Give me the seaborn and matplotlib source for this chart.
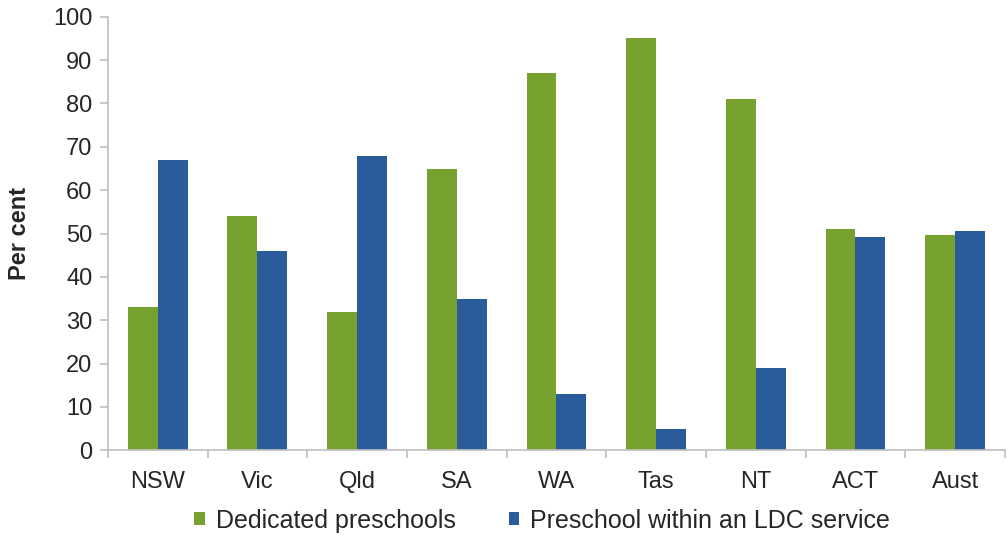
import matplotlib
matplotlib.use("Agg")
import matplotlib.pyplot as plt
from matplotlib.ticker import FixedLocator
import seaborn as sns
import pandas as pd

states = ['NSW', 'Vic', 'Qld', 'SA', 'WA', 'Tas', 'NT', 'ACT', 'Aust']
dedicated = [33, 54, 32, 65, 87, 95, 81, 51, 49.6]
ldc = [67, 46, 68, 35, 13, 5, 19, 49.2, 50.5]
series = ['Dedicated preschools', 'Preschool within an LDC service']

df = pd.DataFrame({
    'state': states * 2,
    'value': dedicated + ldc,
    'series': [series[0]] * len(states) + [series[1]] * len(states),
})

sns.set_style('white')
plt.rcParams['font.family'] = ['Liberation Sans', 'DejaVu Sans']

fig = plt.figure(figsize=(10.08, 5.6), dpi=100)
ax = fig.add_axes([0.107, 0.196, 0.890, 0.774])

sns.barplot(data=df, x='state', y='value', hue='series', order=states,
            hue_order=series, palette=['#78a22f', '#2a5b9a'], width=0.6,
            saturation=1, linewidth=0, ax=ax, legend=True)

ax.set_ylim(0, 100)
ax.set_xlim(-0.5, 8.5)
ax.set_yticks(range(0, 101, 10))
ax.set_xlabel('')
ax.set_ylabel('Per cent', fontsize=17, fontweight='bold')
ax.yaxis.set_label_coords(-0.086, 0.5)

for s in ['top', 'right']:
    ax.spines[s].set_visible(False)
for s in ['left', 'bottom']:
    ax.spines[s].set_color('#bfbfbf')
    ax.spines[s].set_linewidth(1.2)

ax.tick_params(axis='y', which='major', direction='out', length=6, color='#bfbfbf',
               width=1.2, labelsize=17, pad=5, left=True)
ax.tick_params(axis='x', which='major', length=0, labelsize=17, pad=15)
ax.xaxis.set_minor_locator(FixedLocator([i - 0.5 for i in range(len(states) + 1)]))
ax.tick_params(axis='x', which='minor', direction='out', length=6, color='#bfbfbf',
               width=1.2, bottom=True)

handles, labels = ax.get_legend_handles_labels()
ax.legend(handles, labels, loc='center', bbox_to_anchor=(0.538, 0.07),
          bbox_transform=fig.transFigure, ncol=2, frameon=False, fontsize=18,
          handlelength=0.42, handleheight=0.42, handletextpad=0.45, columnspacing=2.1)

fig.savefig('out.png', dpi=100)
